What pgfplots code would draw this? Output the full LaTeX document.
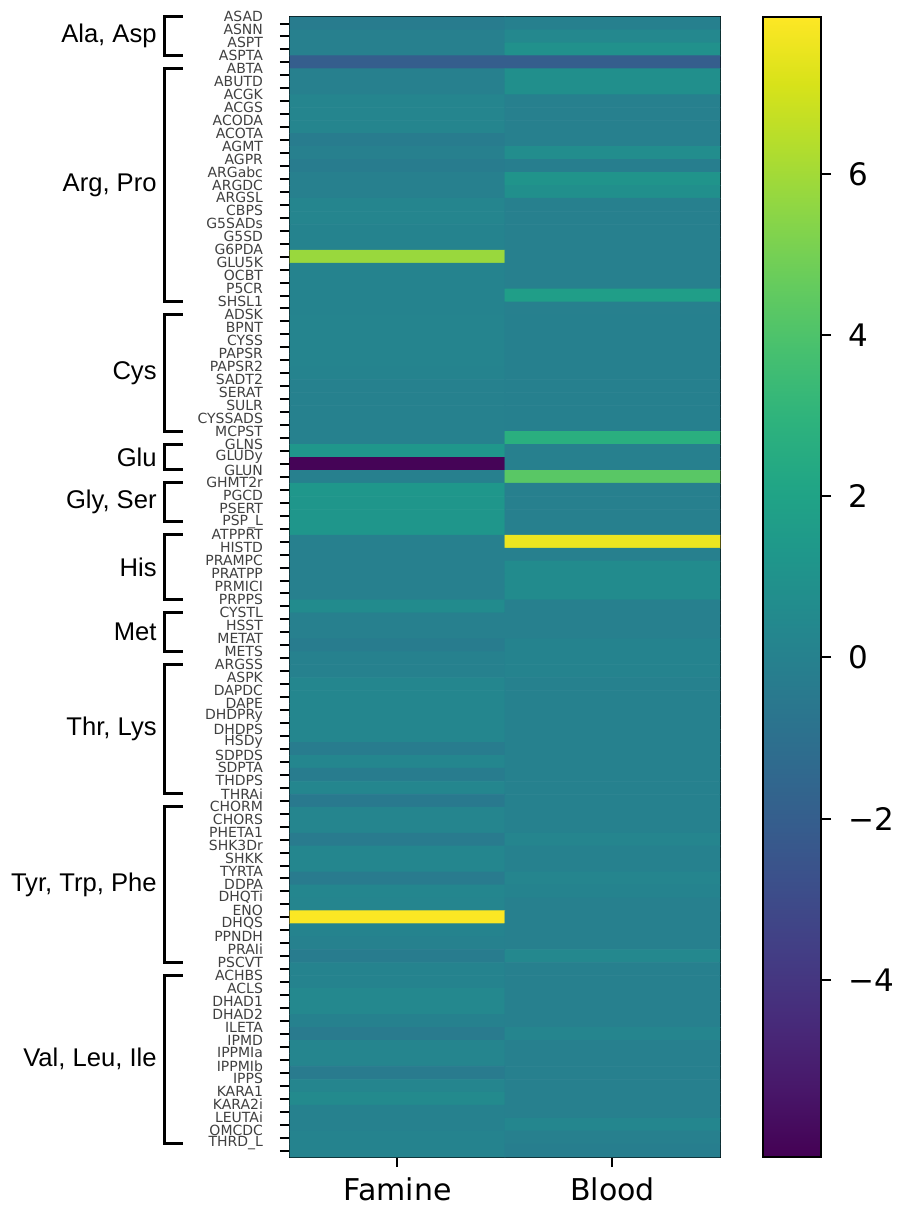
\documentclass[border=0pt]{standalone}
\usepackage{fontspec}
\setmainfont{DejaVu Sans}
\newfontfamily\grpfont{Liberation Sans}
\usepackage{pgfplots}
\pgfplotsset{compat=1.18}

% bracket + label for one amino-acid group: first row, last row, text
\newcommand{\grp}[3]{%
  \draw[line width=1.5pt] ([xshift=-53.5pt]axis cs:-0.5,#1-0.54) -- ([xshift=-62.5pt]axis cs:-0.5,#1-0.54)
    -- ([xshift=-62.5pt]axis cs:-0.5,#2-0.54) -- ([xshift=-53.5pt]axis cs:-0.5,#2-0.54);
  \node[anchor=east, inner sep=0pt, font=\grpfont\fontsize{12.8}{14}\selectfont]
    at ([xshift=-66.5pt]axis cs:-0.5,{(#1+#2)/2-0.54}) {#3};
}

\begin{document}
\begin{tikzpicture}
\begin{axis}[
    name=hm, at={(0,0)}, anchor=south west,
    scale only axis, width=215pt, height=570pt,
    xmin=-0.5, xmax=1.5, ymin=-0.5, ymax=87.5,
    y dir=reverse, enlargelimits=false, clip=false,
    axis line style={line width=1pt},
    tick align=outside, major tick length=5pt,
    tick style={line width=1pt, black},
    xtick pos=left, ytick pos=left,
    xtick={0,1}, xticklabels={Famine,Blood},
    xticklabel style={font=\fontsize{15}{16}\selectfont, yshift=-2pt},
    ytick={0,...,87},
    yticklabels={ASAD,ASNN,ASPT,ASPTA,
      ABTA,ABUTD,ACGK,ACGS,ACODA,ACOTA,AGMT,AGPR,ARGabc,ARGDC,ARGSL,CBPS,G5SADs,G5SD,G6PDA,GLU5K,OCBT,P5CR,SHSL1,
      ADSK,BPNT,CYSS,PAPSR,PAPSR2,SADT2,SERAT,SULR,CYSSADS,MCPST,
      GLNS,GLUDy,GLUN,
      GHMT2r,PGCD,PSERT,PSP\_L,
      ATPPRT,HISTD,PRAMPC,PRATPP,PRMICI,PRPPS,
      CYSTL,HSST,METAT,METS,
      ARGSS,ASPK,DAPDC,DAPE,DHDPRy,DHDPS,HSDy,SDPDS,SDPTA,THDPS,THRAi,
      CHORM,CHORS,PHETA1,SHK3Dr,SHKK,TYRTA,DDPA,DHQTi,ENO,DHQS,PPNDH,PRAIi,PSCVT,
      ACHBS,ACLS,DHAD1,DHAD2,ILETA,IPMD,IPPMIa,IPPMIb,IPPS,KARA1,KARA2i,LEUTAi,OMCDC,THRD\_L},
    yticklabel style={font=\fontsize{7}{8}\selectfont, text=black!75, yshift=3.5pt, xshift=-5pt},
    colormap/viridis,
    point meta min=-6.2, point meta max=7.95,
    colorbar,
    colorbar/width=29pt,
    colorbar style={
        y dir=normal,
        at={(parent axis.north east)}, anchor=north west, xshift=13pt,
        axis line style={line width=1pt},
        tick align=outside, major tick length=5pt,
        tick style={line width=1pt, black},
        ytick pos=right, yticklabel pos=right,
        ytick={-4,-2,0,2,4,6},
        yticklabels={−4,−2,0,2,4,6},
        yticklabel style={font=\fontsize{15.5}{18}\selectfont, text=black, xshift=5pt},
    },
]
\addplot[matrix plot*, mesh/cols=2, point meta=explicit] coordinates {
 (0,0) [-0.3] (1,0) [-0.05]
 (0,1) [-0.1] (1,1) [0.4]
 (0,2) [-0.1] (1,2) [0.9]
 (0,3) [-2.0] (1,3) [-2.0]
 (0,4) [-0.1] (1,4) [0.8]
 (0,5) [-0.1] (1,5) [0.8]
 (0,6) [0.2] (1,6) [-0.1]
 (0,7) [0.2] (1,7) [-0.1]
 (0,8) [0.2] (1,8) [-0.1]
 (0,9) [-0.3] (1,9) [-0.1]
 (0,10) [-0.1] (1,10) [0.7]
 (0,11) [-0.3] (1,11) [-0.2]
 (0,12) [-0.1] (1,12) [1.1]
 (0,13) [-0.1] (1,13) [0.8]
 (0,14) [0.2] (1,14) [-0.1]
 (0,15) [0.2] (1,15) [-0.1]
 (0,16) [0.1] (1,16) [-0.1]
 (0,17) [0.1] (1,17) [-0.1]
 (0,18) [5.8] (1,18) [-0.1]
 (0,19) [0.1] (1,19) [-0.1]
 (0,20) [0.1] (1,20) [-0.1]
 (0,21) [0.1] (1,21) [1.7]
 (0,22) [0.1] (1,22) [-0.1]
 (0,23) [0.15] (1,23) [-0.05]
 (0,24) [0.15] (1,24) [-0.05]
 (0,25) [0.15] (1,25) [-0.05]
 (0,26) [0.15] (1,26) [-0.05]
 (0,27) [0.1] (1,27) [-0.05]
 (0,28) [0.0] (1,28) [-0.05]
 (0,29) [0.0] (1,29) [-0.05]
 (0,30) [0.0] (1,30) [-0.05]
 (0,31) [0.0] (1,31) [-0.05]
 (0,32) [0.0] (1,32) [2.7]
 (0,33) [1.3] (1,33) [-0.1]
 (0,34) [-6.1] (1,34) [-0.1]
 (0,35) [-0.1] (1,35) [4.3]
 (0,36) [1.3] (1,36) [-0.1]
 (0,37) [1.2] (1,37) [-0.1]
 (0,38) [1.2] (1,38) [-0.1]
 (0,39) [1.2] (1,39) [-0.1]
 (0,40) [-0.1] (1,40) [7.6]
 (0,41) [-0.1] (1,41) [-0.1]
 (0,42) [-0.1] (1,42) [0.6]
 (0,43) [-0.1] (1,43) [0.6]
 (0,44) [-0.1] (1,44) [0.6]
 (0,45) [0.6] (1,45) [-0.1]
 (0,46) [-0.1] (1,46) [-0.1]
 (0,47) [-0.1] (1,47) [-0.1]
 (0,48) [-0.3] (1,48) [0.1]
 (0,49) [0.0] (1,49) [0.1]
 (0,50) [0.0] (1,50) [0.1]
 (0,51) [0.3] (1,51) [0.0]
 (0,52) [0.3] (1,52) [0.0]
 (0,53) [0.3] (1,53) [0.0]
 (0,54) [0.3] (1,54) [0.0]
 (0,55) [0.3] (1,55) [0.0]
 (0,56) [-0.3] (1,56) [0.0]
 (0,57) [0.3] (1,57) [0.0]
 (0,58) [-0.3] (1,58) [0.0]
 (0,59) [0.3] (1,59) [0.0]
 (0,60) [-0.5] (1,60) [0.0]
 (0,61) [0.2] (1,61) [0.0]
 (0,62) [0.2] (1,62) [0.0]
 (0,63) [-0.4] (1,63) [0.2]
 (0,64) [0.3] (1,64) [0.0]
 (0,65) [0.3] (1,65) [0.0]
 (0,66) [-0.4] (1,66) [0.2]
 (0,67) [0.3] (1,67) [0.1]
 (0,68) [0.2] (1,68) [-0.1]
 (0,69) [7.9] (1,69) [-0.1]
 (0,70) [0.1] (1,70) [-0.1]
 (0,71) [0.0] (1,71) [-0.1]
 (0,72) [-0.3] (1,72) [0.4]
 (0,73) [0.1] (1,73) [-0.1]
 (0,74) [0.1] (1,74) [-0.1]
 (0,75) [0.4] (1,75) [-0.1]
 (0,76) [0.4] (1,76) [-0.1]
 (0,77) [0.0] (1,77) [-0.1]
 (0,78) [-0.4] (1,78) [0.2]
 (0,79) [0.2] (1,79) [-0.1]
 (0,80) [0.2] (1,80) [-0.1]
 (0,81) [-0.4] (1,81) [-0.1]
 (0,82) [0.2] (1,82) [-0.1]
 (0,83) [0.5] (1,83) [-0.1]
 (0,84) [0.0] (1,84) [-0.1]
 (0,85) [0.0] (1,85) [0.3]
 (0,86) [0.1] (1,86) [-0.1]
 (0,87) [0.1] (1,87) [-0.2]
};
\grp{0}{3}{Ala, Asp}
\grp{4}{22}{Arg, Pro}
\grp{23}{32}{Cys}
\grp{33}{35}{Glu}
\grp{36}{39}{Gly, Ser}
\grp{40}{45}{His}
\grp{46}{49}{Met}
\grp{50}{60}{Thr, Lys}
\grp{61}{73}{Tyr, Trp, Phe}
\grp{74}{87}{Val, Leu, Ile}
\end{axis}
\pgfresetboundingbox
\path[use as bounding box] (-145pt,-25pt) rectangle (304pt,578.5pt);
\end{tikzpicture}
\end{document}
